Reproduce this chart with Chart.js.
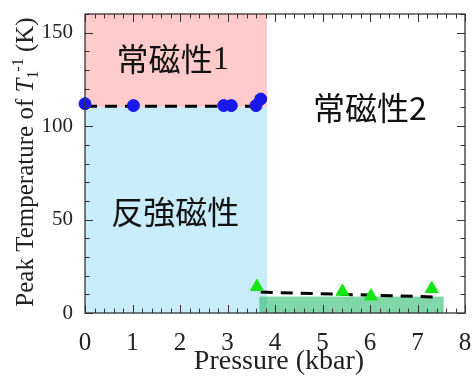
<!DOCTYPE html>
<html><head><meta charset="utf-8">
<script src="https://cdn.jsdelivr.net/npm/chart.js@4.4.0/dist/chart.umd.min.js"></script>
<style>html,body{margin:0;padding:0;background:#fff}#wrap{width:474px;height:376px}</style>
</head><body><div id="wrap"><canvas id="c" width="474" height="376"></canvas></div>
<script>
// data
const blueX = [0, 1.02, 2.92, 3.08, 3.6, 3.7];
const blueY = [112, 111, 111, 111, 111, 114.5];
const greenX = [3.62, 5.42, 6.02, 7.3];
const greenY = [14, 11.5, 9, 13];
const dash1X = [0, 3.7], dash1Y = [110.7, 110.7];
const dash2X = [3.7, 7.35], dash2Y = [11.2, 8.6];
// phase regions [x0,x1,y0,y1]
const pinkRegion = [0, 3.83, 110, 160];
const blueRegion = [0, 3.83, 0, 110];
const greenRegion = [3.67, 7.55, 0, 8.8];
const xTicks = [0,1,2,3,4,5,6,7,8];
const yTicks = [0,50,100,150];
const labels = [
  {text:'常磁性', suffix:'1', suffixSerif:true, x:1.85, y:136},
  {text:'常磁性', suffix:'2', suffixSerif:false, x:6.0, y:110},
  {text:'反強磁性', suffix:'', suffixSerif:false, x:1.9, y:54}
];

const serif = '"Liberation Serif","DejaVu Serif",serif';
const cjk = '"Noto Sans CJK JP","Noto Sans CJK SC",sans-serif';

const pts = (xs, ys) => xs.map((x,i)=>({x, y:ys[i]}));

const bgPlugin = {
  id:'bg',
  beforeDatasetsDraw(chart){
    const {ctx, scales:{x,y}} = chart;
    const box = (r, col) => {
      const l=x.getPixelForValue(r[0]), rr=x.getPixelForValue(r[1]);
      const t=y.getPixelForValue(r[3]), b=y.getPixelForValue(r[2]);
      ctx.fillStyle=col; ctx.fillRect(l,t,rr-l,b-t);
    };
    ctx.save();
    box(pinkRegion,'rgb(255,202,202)');
    box(blueRegion,'rgb(200,236,250)');
    box(greenRegion,'rgba(43,187,107,0.6)');
    ctx.fillStyle='#111'; ctx.textAlign='left'; ctx.textBaseline='middle';
    labels.forEach(L=>{
      const f1='32px '+cjk;
      const f2= L.suffixSerif ? '33px '+serif : '32px '+cjk;
      ctx.font=f1; const w1=ctx.measureText(L.text).width;
      ctx.font=f2; const w2=ctx.measureText(L.suffix).width;
      let sx = x.getPixelForValue(L.x) - (w1+w2)/2;
      const sy = y.getPixelForValue(L.y);
      ctx.font=f1; ctx.fillText(L.text, sx, sy);
      ctx.font=f2; ctx.fillText(L.suffix, sx+w1, sy+ (L.suffixSerif?1:0));
    });
    ctx.restore();
  },
  afterDraw(chart){
    const {ctx, chartArea:a, scales:{x,y}} = chart;
    ctx.save();
    ctx.strokeStyle='#333'; ctx.lineWidth=1.3;
    ctx.strokeRect(a.left,a.top,a.right-a.left,a.bottom-a.top);
    ctx.lineWidth=1;
    ctx.beginPath();
    for(let v=0; v<=8.001; v+=0.2){
      const px=Math.round(x.getPixelForValue(v))+0.5;
      const major = Math.abs(v-Math.round(v))<1e-6;
      const L = major?8:4.5;
      ctx.moveTo(px,a.bottom); ctx.lineTo(px,a.bottom-L);
      ctx.moveTo(px,a.top); ctx.lineTo(px,a.top+L);
    }
    for(let v=0; v<=160; v+=10){
      const py=Math.round(y.getPixelForValue(v))+0.5;
      const major = v%50===0;
      const L = major?8:4.5;
      ctx.moveTo(a.left,py); ctx.lineTo(a.left+L,py);
      ctx.moveTo(a.right,py); ctx.lineTo(a.right-L,py);
    }
    ctx.stroke();
    // x title
    ctx.fillStyle='#222'; ctx.textAlign='center'; ctx.textBaseline='middle';
    ctx.font='28px '+serif;
    ctx.fillText('Pressure (kbar)', 279, 362);
    // y title rotated
    ctx.translate(25, 162);
    ctx.rotate(-Math.PI/2);
    const parts = [
      {t:'Peak Temperature of ', f:'25px '+serif, dy:0},
      {t:'T', f:'italic 25px '+serif, dy:0},
      {t:'1', f:'16px '+serif, dy:5, sub:true},
      {t:'-1', f:'16px '+serif, dy:-10},
      {t:' (K)', f:'25px '+serif, dy:0}
    ];
    let total=0;
    parts.forEach(p=>{ctx.font=p.f; p.w=ctx.measureText(p.t).width; total+=p.w;});
    total -= 1;
    let cx=-total/2;
    ctx.textAlign='left'; ctx.textBaseline='alphabetic';
    parts.forEach(p=>{
      ctx.font=p.f; ctx.fillText(p.t, cx, 8+p.dy);
      cx += p.sub ? p.w-1 : p.w;
    });
    ctx.restore();
  }
};

const zeroPad = s => { s.paddingTop=0; s.paddingBottom=0; s.paddingLeft=0; s.paddingRight=0; };

new Chart(document.getElementById('c'), {
  type:'scatter',
  data:{datasets:[
    {type:'line', data:pts(dash1X,dash1Y), borderColor:'#000', borderWidth:3, borderDash:[12,8], pointRadius:0, fill:false, order:3},
    {type:'line', data:pts(dash2X,dash2Y), borderColor:'#000', borderWidth:3, borderDash:[12,8], pointRadius:0, fill:false, order:3},
    {data:pts(blueX,blueY), backgroundColor:'rgb(25,25,235)', borderColor:'rgb(25,25,235)', pointRadius:6, pointStyle:'circle', order:1},
    {data:pts(greenX,greenY), backgroundColor:'rgb(20,230,20)', borderColor:'rgb(20,230,20)', pointRadius:7.5, pointStyle:'triangle', order:1}
  ]},
  options:{
    responsive:false, animation:false, clip:false,
    layout:{padding:{top:14,right:9,left:0,bottom:0}},
    plugins:{legend:{display:false}, tooltip:{enabled:false}},
    scales:{
      x:{type:'linear', min:0, max:8,
        afterBuildTicks(s){ s.ticks = xTicks.map(v=>({value:v})); },
        afterFit(s){ s.height = 63; zeroPad(s); },
        grid:{display:false, drawTicks:false}, border:{display:false},
        ticks:{font:{family:serif,size:25}, color:'#222', padding:15, maxRotation:0, autoSkip:false}},
      y:{type:'linear', min:0, max:160,
        afterBuildTicks(s){ s.ticks = yTicks.map(v=>({value:v})); },
        afterFit(s){ s.width = 85; zeroPad(s); },
        grid:{display:false, drawTicks:false}, border:{display:false},
        ticks:{font:{family:serif,size:21}, color:'#222', padding:12}}
    }
  },
  plugins:[bgPlugin]
});
</script></body></html>
